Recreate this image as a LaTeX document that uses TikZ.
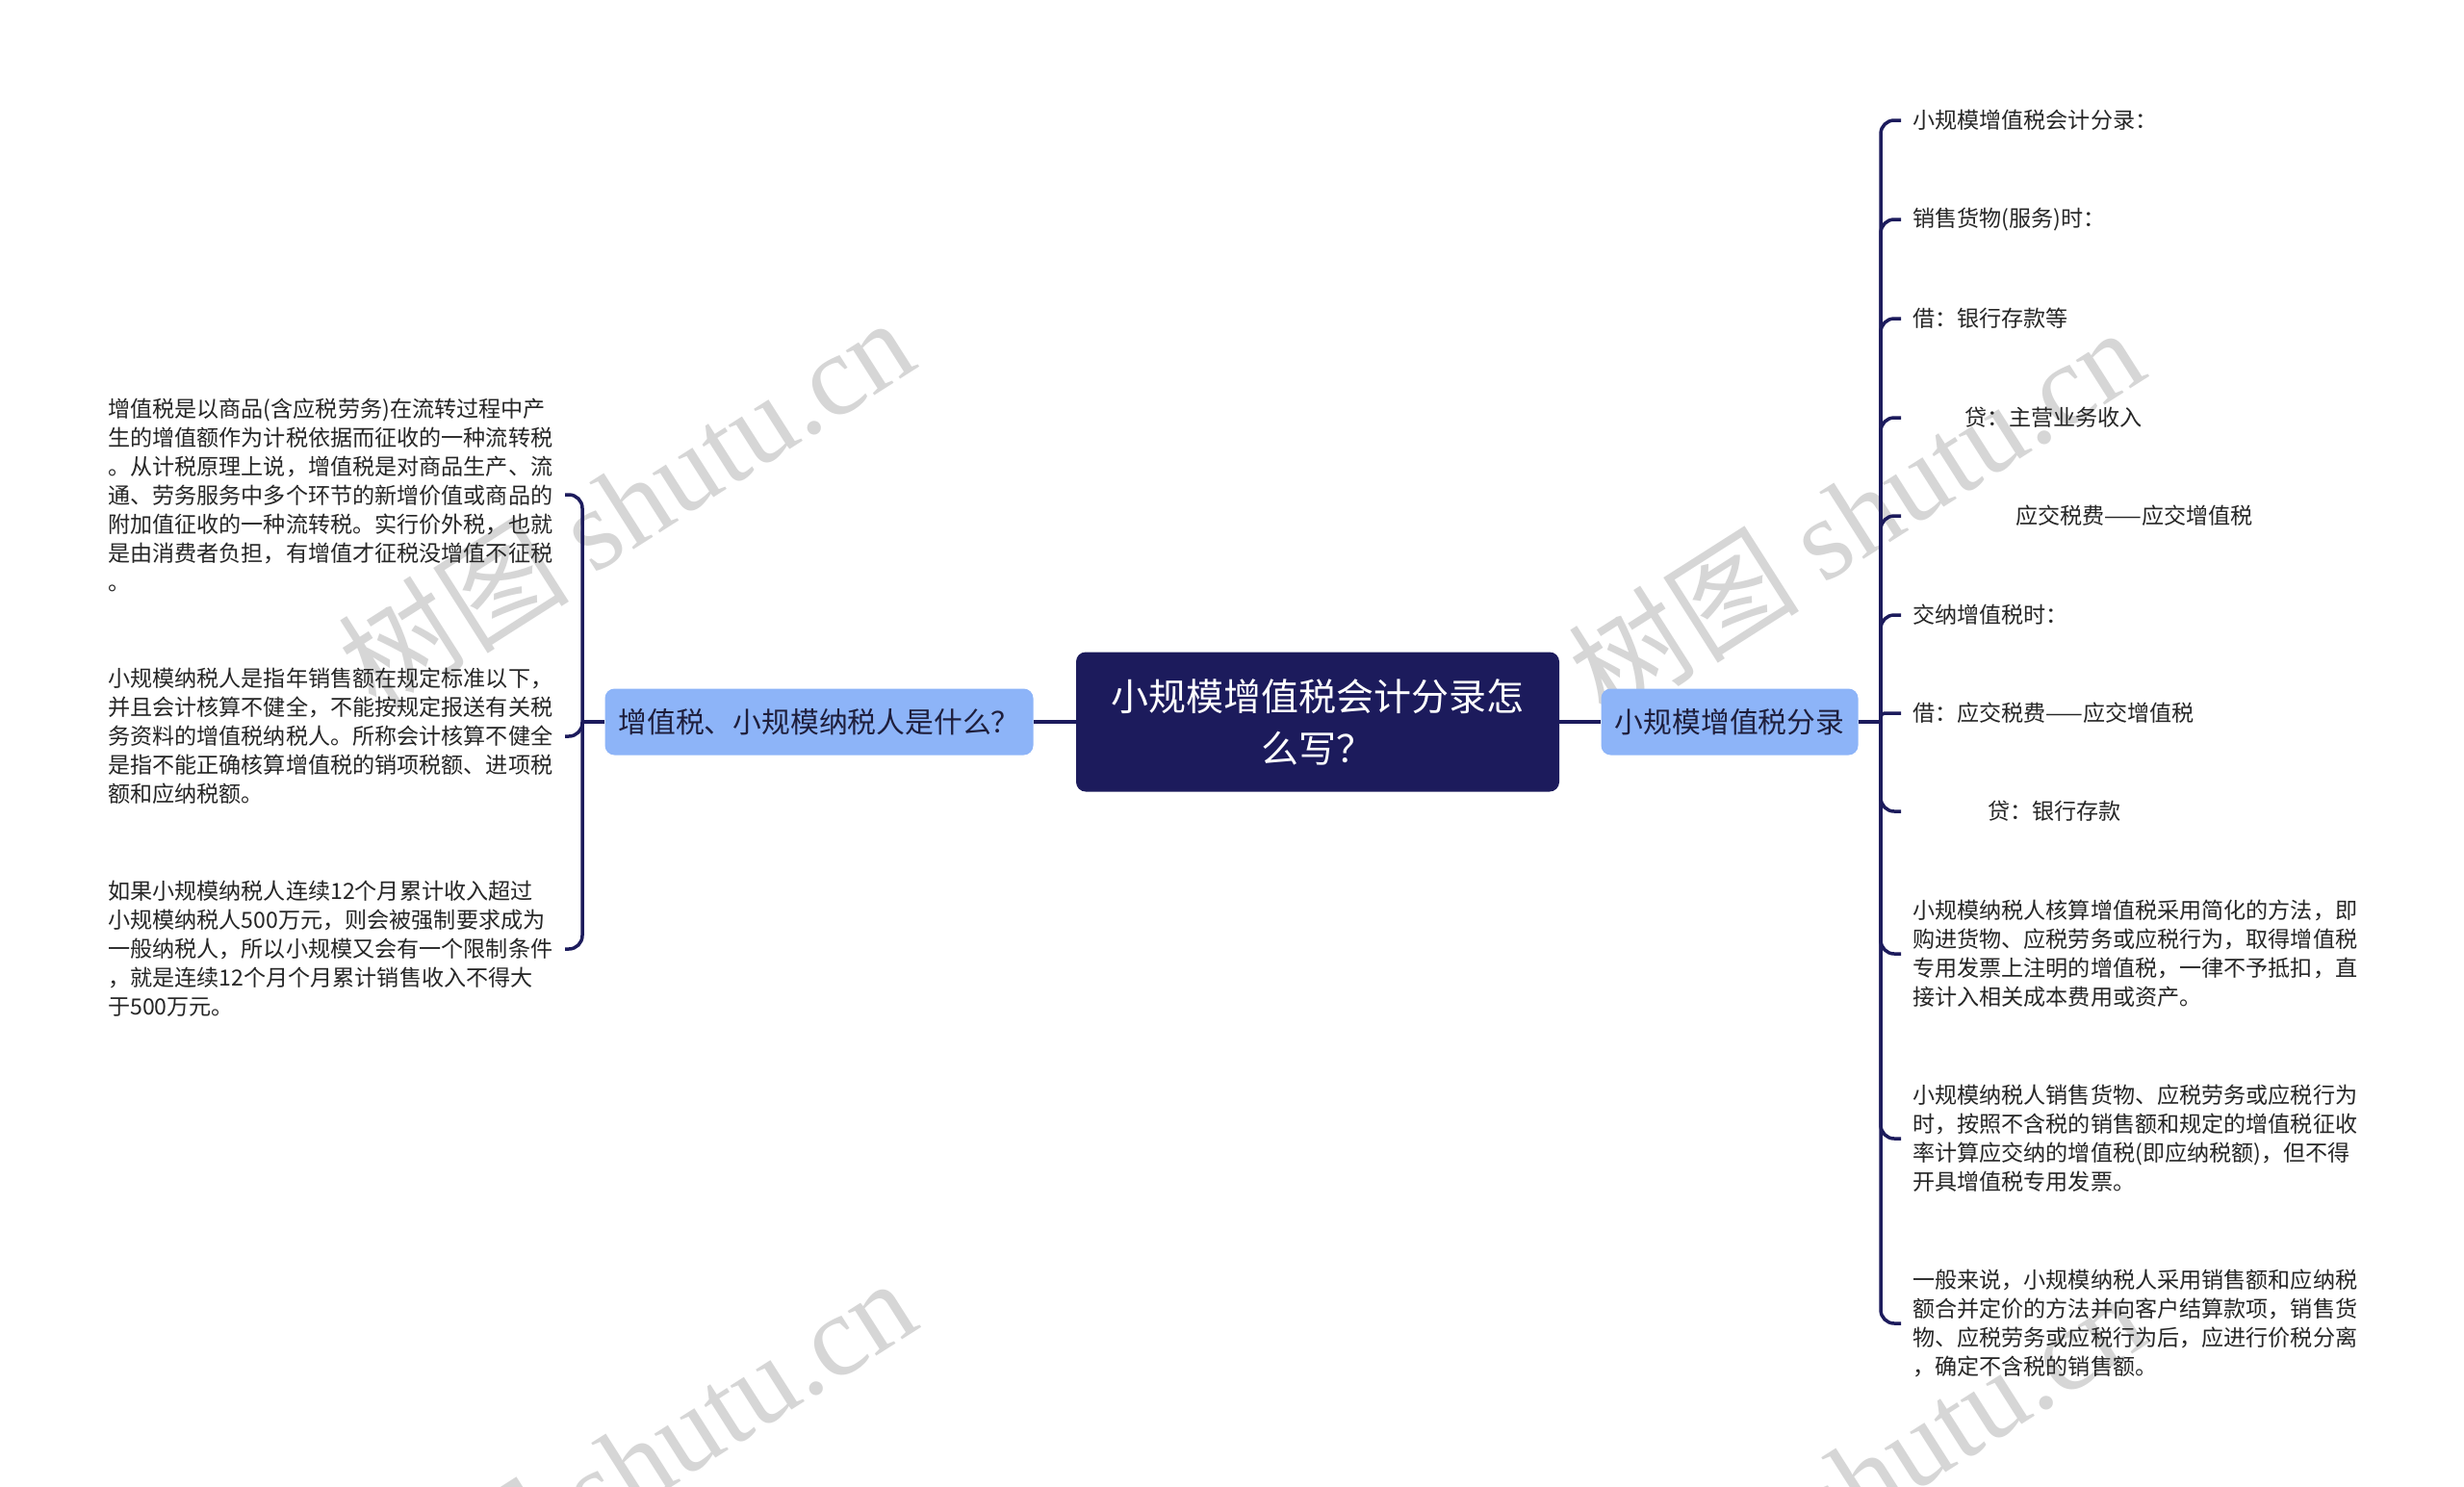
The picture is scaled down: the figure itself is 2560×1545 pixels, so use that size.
\documentclass[tikz,border=0pt]{standalone}
\usepackage{fontspec}
\setmainfont{Noto Sans CJK SC}
\newfontfamily\wmserif{Liberation Serif}
\definecolor{navy}{HTML}{1C1B5C}
\definecolor{lblue}{HTML}{8DB4F8}
\definecolor{txt}{HTML}{262626}
\definecolor{subtxt}{HTML}{1E1E3C}
\definecolor{wm}{HTML}{D6D6D6}
\begin{document}
\begin{tikzpicture}[x=1pt,y=-1pt,
  root/.style={fill=navy, rounded corners=10pt, minimum width=502pt, minimum height=145pt, text=white, font=\fontsize{39}{54}\selectfont, align=center, inner sep=0pt},
  sub/.style={fill=lblue, rounded corners=10pt, minimum height=69pt, text=subtxt, font=\fontsize{29.8}{34}\selectfont, inner sep=0pt},
  leaf/.style={text=txt, font=\fontsize{23.1}{30}\selectfont, inner sep=0pt, align=left, anchor=west},
  conn/.style={draw=navy, line width=3.5pt, rounded corners=14pt},
  wmark/.style={text=wm, rotate=32.5, inner sep=0pt, font=\fontsize{120}{120}\selectfont}
]
\useasboundingbox (0,0) rectangle (2560,1545);
\fill[white] (0,0) rectangle (2560,1545);
\clip (0,0) rectangle (2560,1545);

% watermarks
\node[wmark] (wm1) at (650,522) {树图 {\wmserif shutu.cn}};
\node[wmark] (wm2) at (1928,532) {树图 {\wmserif shutu.cn}};
\node[wmark] (wm3) at (652,1520) {树图 {\wmserif shutu.cn}};
\node[wmark] (wm4) at (1930,1535) {树图 {\wmserif shutu.cn}};

% main nodes
\node[root] (root) at (1369,750) {小规模增值税会计分录怎\\么写？};
\node[sub, minimum width=445pt] (lc) at (851,750) {增值税、小规模纳税人是什么？};
\node[sub, minimum width=267pt] (rc) at (1797,750) {小规模增值税分录};

% left leaves
\node[leaf] (L1) at (112,514) {增值税是以商品(含应税劳务)在流转过程中产\\生的增值额作为计税依据而征收的一种流转税\\。从计税原理上说，增值税是对商品生产、流\\通、劳务服务中多个环节的新增价值或商品的\\附加值征收的一种流转税。实行价外税，也就\\是由消费者负担，有增值才征税没增值不征税\\。};
\node[leaf] (L2) at (112,765) {小规模纳税人是指年销售额在规定标准以下，\\并且会计核算不健全，不能按规定报送有关税\\务资料的增值税纳税人。所称会计核算不健全\\是指不能正确核算增值税的销项税额、进项税\\额和应纳税额。};
\node[leaf] (L3) at (112,986) {如果小规模纳税人连续12个月累计收入超过\\小规模纳税人500万元，则会被强制要求成为\\一般纳税人，所以小规模又会有一个限制条件\\，就是连续12个月个月累计销售收入不得大\\于500万元。};

% right leaves
\node[leaf] (R1) at (1987,125) {小规模增值税会计分录：};
\node[leaf] (R2) at (1987,228) {销售货物(服务)时：};
\node[leaf] (R3) at (1987,331) {借：银行存款等};
\node[leaf] (R4) at (1987,434) {\hspace*{54pt}贷：主营业务收入};
\node[leaf] (R5) at (1987,536) {\hspace*{107pt}应交税费——应交增值税};
\node[leaf] (R6) at (1987,639) {交纳增值税时：};
\node[leaf] (R7) at (1987,741) {借：应交税费——应交增值税};
\node[leaf] (R8) at (1987,843) {\hspace*{78pt}贷：银行存款};
\node[leaf] (R9) at (1987,991) {小规模纳税人核算增值税采用简化的方法，即\\购进货物、应税劳务或应税行为，取得增值税\\专用发票上注明的增值税，一律不予抵扣，直\\接计入相关成本费用或资产。};
\node[leaf] (R10) at (1987,1183) {小规模纳税人销售货物、应税劳务或应税行为\\时，按照不含税的销售额和规定的增值税征收\\率计算应交纳的增值税(即应纳税额)，但不得\\开具增值税专用发票。};
\node[leaf] (R11) at (1987,1375) {一般来说，小规模纳税人采用销售额和应纳税\\额合并定价的方法并向客户结算款项，销售货\\物、应税劳务或应税行为后，应进行价税分离\\，确定不含税的销售额。};

% junctions
\coordinate (lj) at (605,750);
\coordinate (ls) at (587,0);
\coordinate (rj) at (1954,750);
\coordinate (rs) at (1975,0);

% connectors
\draw[conn] (root.west) -- (lc.east);
\draw[conn] (root.east) -- (rc.west);
\draw[conn] (lc.west) -- (lj);
\draw[conn] (rc.east) -- (rj);
\foreach \n in {L1,L2,L3}
  \draw[conn] (lj) |- (\n.west -| ls);
\foreach \n in {R1,R2,R3,R4,R5,R6,R8,R9,R10,R11}
  \draw[conn] (rj) |- (\n.west -| rs);
\draw[conn, rounded corners=4pt] (rj) |- (R7.west -| rs);
\end{tikzpicture}
\end{document}
